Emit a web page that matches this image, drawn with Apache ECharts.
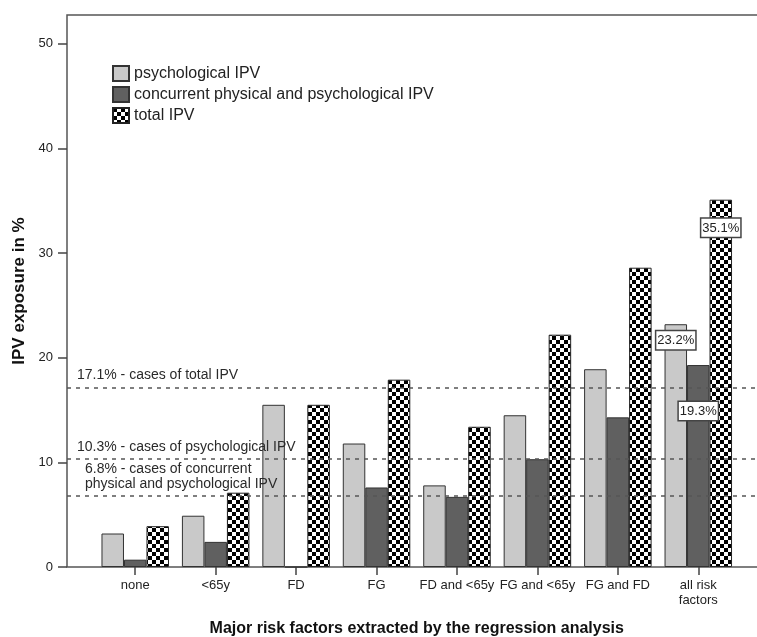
<!DOCTYPE html>
<html>
<head>
<meta charset="utf-8">
<script src="https://cdn.jsdelivr.net/npm/echarts@6/dist/echarts.min.js"></script>
<style>
html,body{margin:0;padding:0;background:#fff;}
#chart{width:757px;height:637px;}
</style>
</head>
<body>
<div id="chart"></div>
<script>
const categories = ['none', '<65y', 'FD', 'FG', 'FD and <65y', 'FG and <65y', 'FG and FD', 'all risk\nfactors'];
const seriesNames = ['psychological IPV', 'concurrent physical and psychological IPV', 'total IPV'];
const psychological = [3.2, 4.9, 15.5, 11.8, 7.8, 14.5, 18.9, 23.2];
const concurrent = [0.7, 2.4, 0, 7.6, 6.7, 10.3, 14.3, 19.3];
const total = [3.9, 7.1, 15.5, 17.9, 13.4, 22.2, 28.6, 35.1];
const yTicks = [0, 10, 20, 30, 40, 50];
const refValues = [17.1, 10.3, 6.8];
const refTexts = ['17.1% - cases of total IPV', '10.3% - cases of psychological IPV', '6.8% - cases of concurrent\nphysical and psychological IPV'];
const labelledCategory = 7;

const FONT = "'Liberation Sans', Arial, sans-serif";
const TXT = '#222';
const Y_MAX = 52.75;

// checkered pattern
const pc = document.createElement('canvas');
pc.width = 8; pc.height = 8;
const pctx = pc.getContext('2d');
pctx.fillStyle = '#fff'; pctx.fillRect(0, 0, 8, 8);
pctx.fillStyle = '#000'; pctx.fillRect(0, 0, 4, 4); pctx.fillRect(4, 4, 4, 4);

const labelDist = [7, 37, 19];
const boxLabel = (d) => ({
  show: true, position: 'insideTop', distance: d,
  formatter: (p) => p.value + '%',
  backgroundColor: '#fff', borderColor: '#444', borderWidth: 1.5,
  padding: [3, 1, 2, 1], fontSize: 13, color: TXT, fontFamily: FONT
});
function withLabels(arr, si) {
  return arr.map((v, i) => i === labelledCategory ? { value: v, label: boxLabel(labelDist[si]) } : v);
}

const chart = echarts.init(document.getElementById('chart'), null, { renderer: 'canvas' });
const option = {
  animation: false,
  textStyle: { fontFamily: FONT },
  grid: [
    { left: 67, top: 15, width: 730, bottom: 70, show: true, borderColor: '#555', borderWidth: 1.5, backgroundColor: 'transparent', outerBoundsMode: 'none', containLabel: false },
    { left: 95, top: 15, right: 18.5, bottom: 70, outerBoundsMode: 'none', containLabel: false }
  ],
  legend: {
    orient: 'vertical', left: 107, top: 60,
    icon: 'rect',
    itemWidth: 16, itemHeight: 15, itemGap: 4,
    textStyle: { fontSize: 16, color: TXT, fontFamily: FONT },
    data: seriesNames
  },
  xAxis: [
    { gridIndex: 0, type: 'value', min: 0, max: 1, show: false },
    {
      gridIndex: 1, type: 'category', data: categories,
      axisLine: { show: false },
      axisTick: { show: true, alignWithLabel: true, length: 8, lineStyle: { color: '#444', width: 1.5 } },
      axisLabel: { interval: 0, fontSize: 13, color: TXT, margin: 11, lineHeight: 15, fontFamily: FONT },
      name: 'Major risk factors extracted by the regression analysis',
      nameLocation: 'middle', nameGap: 54,
      nameTextStyle: { fontSize: 16, fontWeight: 'bold', color: '#111', fontFamily: FONT }
    }
  ],
  yAxis: [
    { gridIndex: 0, type: 'value', min: 0, max: Y_MAX, show: false },
    {
      gridIndex: 1, type: 'value', min: 0, max: Y_MAX, offset: 28,
      axisLine: { show: false },
      axisTick: { show: true, length: 9, customValues: yTicks, lineStyle: { color: '#444', width: 1.5 } },
      axisLabel: { fontSize: 13, color: TXT, margin: 14, customValues: yTicks, fontFamily: FONT },
      splitLine: { show: false },
      name: 'IPV exposure in %', nameLocation: 'middle', nameGap: 33,
      nameTextStyle: { fontSize: 17, fontWeight: 'bold', color: '#111', fontFamily: FONT }
    }
  ],
  series: [
    {
      type: 'line', xAxisIndex: 0, yAxisIndex: 0, data: [], silent: true,
      markLine: {
        symbol: 'none', silent: true,
        lineStyle: { type: [4, 5], color: '#555', width: 1.5 },
        data: refValues.map((v, i) => ({
          yAxis: v,
          label: {
            show: true, position: 'insideStartTop', formatter: refTexts[i],
            fontSize: 14, color: '#2a2a2a', fontFamily: FONT, lineHeight: 15,
            distance: i === 2 ? [18, 4] : [10, 5]
          }
        }))
      }
    },
    {
      name: seriesNames[0], type: 'bar', xAxisIndex: 1, yAxisIndex: 1,
      data: withLabels(psychological, 0), barWidth: 22.5, barGap: '0%',
      itemStyle: { color: '#c9c9c9', borderColor: '#333', borderWidth: 1 }
    },
    {
      name: seriesNames[1], type: 'bar', xAxisIndex: 1, yAxisIndex: 1,
      data: withLabels(concurrent, 1), barWidth: 22.5, barGap: '0%',
      itemStyle: { color: '#606060', borderColor: '#333', borderWidth: 1 }
    },
    {
      name: seriesNames[2], type: 'bar', xAxisIndex: 1, yAxisIndex: 1,
      data: withLabels(total, 2), barWidth: 22.5, barGap: '0%',
      itemStyle: { color: { image: pc, repeat: 'repeat' }, borderColor: '#222', borderWidth: 1 }
    }
  ]
};
chart.setOption(option);
</script>
</body>
</html>
